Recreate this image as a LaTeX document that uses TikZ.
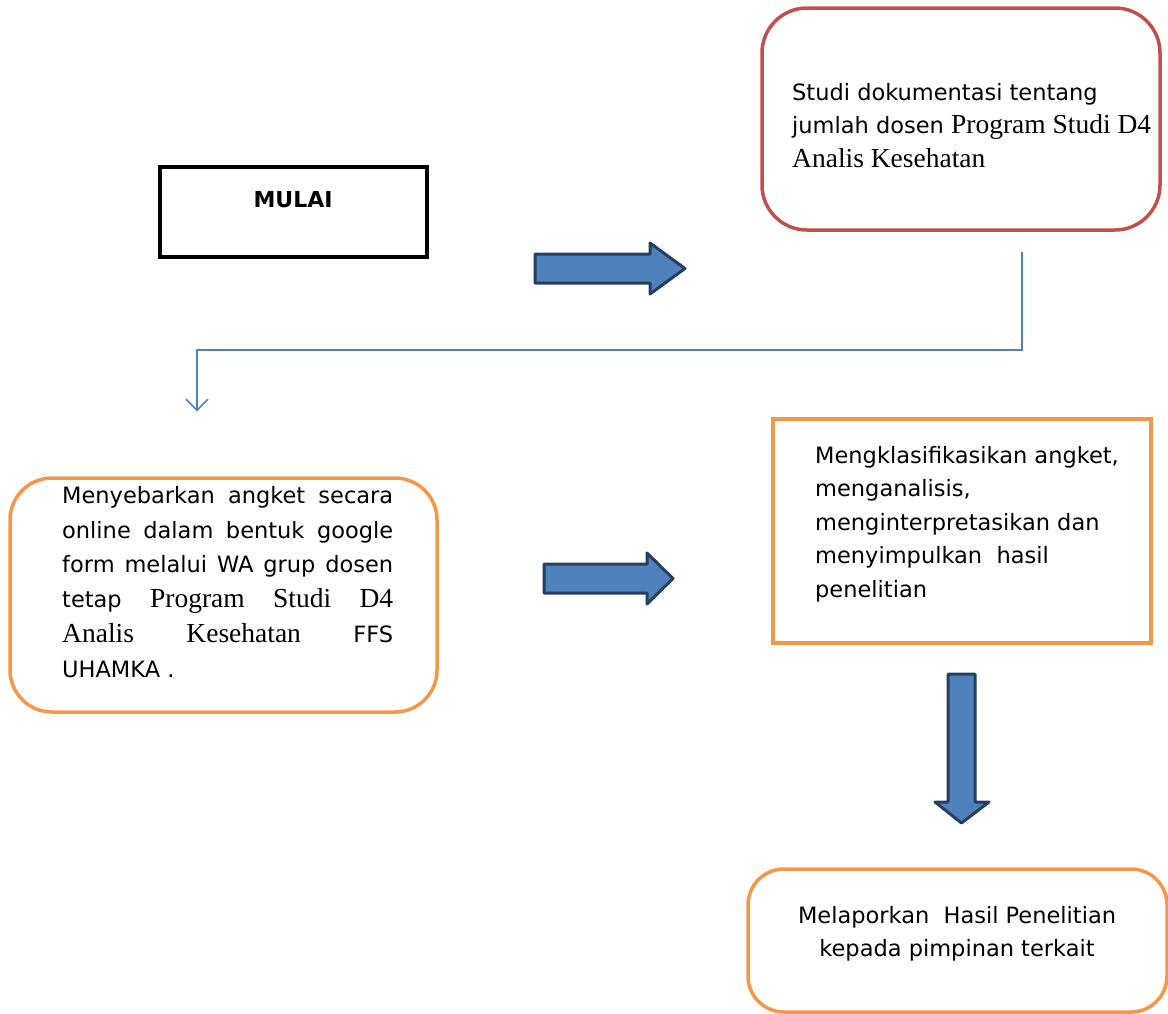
\documentclass[tikz,border=0pt]{standalone}
\usepackage{fontspec}
\setmainfont{DejaVu Sans}
\newfontfamily\serifteks{Liberation Serif}
\usepackage{tikz}
\usetikzlibrary{arrows.meta}
\definecolor{kotakmerah}{HTML}{C0504D}
\definecolor{kotakoranye}{HTML}{F79646}
\definecolor{panahbiru}{HTML}{4F81BD}
\definecolor{panahnavy}{HTML}{243F60}
\newcommand{\serteks}[1]{{\serifteks\fontsize{27.5}{34}\selectfont #1}}

\begin{document}
\begin{tikzpicture}[
    x=1pt,
    y=-1pt,
    font=\fontsize{22.5}{33.5}\selectfont,
    mulaibox/.style={
        draw=black,
        line width=4.5pt,
        minimum width=267pt,
        minimum height=90pt,
        inner sep=0pt
    },
    merahbox/.style={
        draw=kotakmerah,
        line width=3.5pt,
        rounded corners=45pt,
        inner sep=0pt
    },
    oranyebox/.style={
        draw=kotakoranye,
        line width=3.5pt,
        rounded corners=42pt,
        inner sep=0pt
    },
    oranyerect/.style={
        draw=kotakoranye,
        line width=4pt,
        inner sep=0pt
    },
    teks/.style={
        inner sep=0pt,
        align=left,
        anchor=north west
    },
    blokpanah/.style={
        fill=panahbiru,
        draw=panahnavy,
        line width=3pt,
        line join=round
    },
    garis/.style={
        -{Straight Barb[length=11pt,width=22pt]},
        draw=panahbiru,
        line width=1.5pt
    }
]

\useasboundingbox (0,0) rectangle (1168,1013);

% -----------------------------------------------------
% Kotak
% -----------------------------------------------------

\node[mulaibox] (mulai) at (293.5,212) {};
\node[merahbox, minimum width=398pt, minimum height=222pt] (studi) at (961,119) {};
\node[oranyebox, minimum width=427pt, minimum height=234pt] (sebar) at (223.5,595) {};
\node[oranyerect, minimum width=378pt, minimum height=224pt] (klasifikasi) at (962,530.5) {};
\node[oranyebox, minimum width=419pt, minimum height=143pt, rounded corners=36pt] (lapor) at (957.5,940.5) {};

% -----------------------------------------------------
% Teks
% -----------------------------------------------------

\node[inner sep=0pt, anchor=base, font=\bfseries\fontsize{22}{26}\selectfont] (mulaiteks) at (293,207) {MULAI};

\node[teks] (studiteks) at (792,83)
{
    Studi dokumentasi tentang\\
    jumlah dosen \serteks{Program Studi D4}\\
    \serteks{Analis Kesehatan}
};

\node[teks, font=\fontsize{22.5}{34.8}\selectfont] (sebarteks) at (62,486)
{
    \makebox[331pt][s]{Menyebarkan angket secara}\\
    \makebox[331pt][s]{online dalam bentuk google}\\
    \makebox[331pt][s]{form melalui WA grup dosen}\\
    \makebox[331pt][s]{tetap \serteks{Program} \serteks{Studi} \serteks{D4}}\\
    \makebox[331pt][s]{\serteks{Analis} \serteks{Kesehatan} FFS}\\
    UHAMKA .
};

\node[teks] (klasifikasiteks) at (815,446)
{
    Mengklasifikasikan angket,\\
    menganalisis,\\
    menginterpretasikan dan\\
    menyimpulkan\ \ hasil\\
    penelitian
};

\node[teks, align=center, anchor=north] (laporteks) at (957,906)
{
    Melaporkan\ \ Hasil Penelitian\\
    kepada pimpinan terkait
};

% -----------------------------------------------------
% Panah blok
% -----------------------------------------------------

\draw[blokpanah] (535,254) -- (650,254) -- (650,243) -- (685,268.5)
    -- (650,294) -- (650,283) -- (535,283) -- cycle;

\draw[blokpanah] (544,564) -- (647,564) -- (647,553) -- (673,578.5)
    -- (647,604) -- (647,593) -- (544,593) -- cycle;

\draw[blokpanah] (948,674) -- (975,674) -- (975,802) -- (989,802)
    -- (961.5,823) -- (935,802) -- (948,802) -- cycle;

% -----------------------------------------------------
% Garis penghubung
% -----------------------------------------------------

\coordinate (linkawal) at ([xshift=61pt,yshift=-20pt]studi.south);
\coordinate (linkakhir) at ([xshift=-26.5pt,yshift=65pt]sebar.north);

\draw[garis] (linkawal) -- ++(0,98) -| (linkakhir);

\end{tikzpicture}
\end{document}
